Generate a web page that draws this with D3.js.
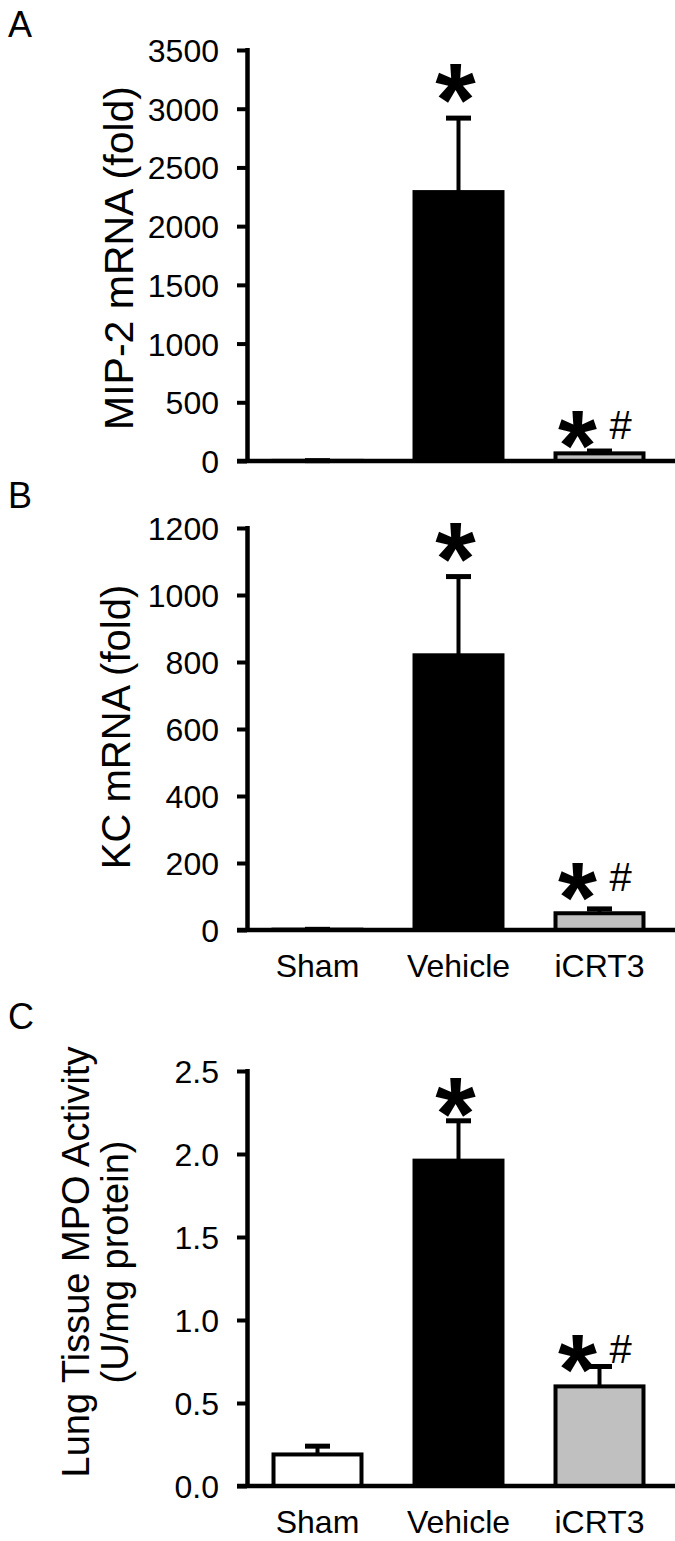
<!DOCTYPE html>
<html>
<head>
<meta charset="utf-8">
<script src="https://cdn.jsdelivr.net/npm/d3@7"></script>
<style>
  html, body { margin: 0; padding: 0; background: #ffffff; }
  svg { display: block; }
  text { font-family: "Liberation Sans", Arial, sans-serif; fill: #000; }
</style>
</head>
<body>
<svg id="chart" width="675" height="1541"></svg>
<script>
// ---------- data ----------
const categories = ["Sham", "Vehicle", "iCRT3"];
const barFills = ["#ffffff", "#000000", "#c0c0c0"];

const mip2Mean = [1, 2290, 65];
const mip2Err  = [2, 630, 20];
const mip2Ticks = [0, 500, 1000, 1500, 2000, 2500, 3000, 3500];

const kcMean = [1, 820, 50];
const kcErr  = [1, 235, 13];
const kcTicks = [0, 200, 400, 600, 800, 1000, 1200];

const mpoMean = [0.19, 1.96, 0.60];
const mpoErr  = [0.05, 0.24, 0.12];
const mpoTicks = [0, 0.5, 1.0, 1.5, 2.0, 2.5];

const marks = ["", "*", "*#"];

// ---------- layout ----------
const svg = d3.select("#chart");
const axisX = 247;
const rightX = 670;

const panels = [
  { letter: "A", letterY: 37, top: 50, bottom: 461, ticks: mip2Ticks, fmt: d3.format("d"),
    mean: mip2Mean, err: mip2Err, titles: ["MIP-2 mRNA (fold)"], titleX: [133], titleY: 258, titleSize: 41,
    showX: false, gapStar: 25, gapPair: 12 },
  { letter: "B", letterY: 508, top: 528, bottom: 930, ticks: kcTicks, fmt: d3.format("d"),
    mean: kcMean, err: kcErr, titles: ["KC mRNA (fold)"], titleX: [130], titleY: 727, titleSize: 40,
    showX: true, gapStar: 25, gapPair: 18 },
  { letter: "C", letterY: 1029, top: 1071, bottom: 1486, ticks: mpoTicks, fmt: d3.format(".1f"),
    mean: mpoMean, err: mpoErr, titles: ["Lung Tissue MPO Activity", "(U/mg protein)"], titleX: [89, 128],
    titleY: 1262, titleSize: 38, showX: true, gapStar: 14, gapPair: 3 }
];

const x = d3.scaleBand().domain(categories).range([axisX, rightX]).paddingInner(0.376).paddingOuter(0.188);

panels.forEach(p => {
  const y = d3.scaleLinear().domain([0, d3.max(p.ticks)]).range([p.bottom, p.top]);
  const g = svg.append("g");

  // panel letter
  g.append("text").attr("x", 8).attr("y", p.letterY).attr("font-size", 36).text(p.letter);

  // bars
  g.selectAll("rect.bar").data(categories).enter().append("rect")
    .attr("x", d => x(d))
    .attr("y", (d, i) => y(p.mean[i]))
    .attr("width", x.bandwidth())
    .attr("height", (d, i) => y(0) - y(p.mean[i]))
    .attr("fill", (d, i) => barFills[i])
    .attr("stroke", "#000")
    .attr("stroke-width", 4);

  // error bars (upper only) and significance marks
  categories.forEach((c, i) => {
    const cx = x(c) + x.bandwidth() / 2;
    const yt = y(p.mean[i] + p.err[i]);
    g.append("line").attr("x1", cx).attr("x2", cx).attr("y1", y(p.mean[i])).attr("y2", yt)
      .attr("stroke", "#000").attr("stroke-width", 4);
    g.append("line").attr("x1", cx - 12.5).attr("x2", cx + 12.5).attr("y1", yt).attr("y2", yt)
      .attr("stroke", "#000").attr("stroke-width", 5);

    const m = marks[i];
    if (m === "*") {
      const bottom = yt - p.gapStar;
      g.append("text").attr("x", cx - 3).attr("y", bottom + 43)
        .attr("text-anchor", "middle").attr("font-size", 104).attr("font-weight", "bold").text("*");
    } else if (m === "*#") {
      const bottom = yt - p.gapPair;
      g.append("text").attr("x", cx - 22).attr("y", bottom + 41)
        .attr("text-anchor", "middle").attr("font-size", 100).attr("font-weight", "bold").text("*");
      g.append("text").attr("x", cx + 21).attr("y", bottom)
        .attr("text-anchor", "middle").attr("font-size", 40).text("#");
    }
  });

  // y axis
  const yAxis = d3.axisLeft(y).tickValues(p.ticks).tickFormat(p.fmt).tickSize(10).tickPadding(18).tickSizeOuter(0);
  const ya = g.append("g").attr("transform", `translate(${axisX},0)`).call(yAxis);
  ya.select(".domain").attr("stroke", "#000").attr("stroke-width", 4.5)
    .attr("d", `M0.5,${p.top - 2}V${p.bottom}`);
  ya.selectAll(".tick line").attr("stroke", "#000").attr("stroke-width", 4);
  ya.selectAll(".tick text").attr("font-size", 32).attr("font-family", "Liberation Sans, Arial, sans-serif")
    .attr("dy", "0.36em");

  // x axis
  const xAxis = d3.axisBottom(x).tickSize(0).tickPadding(24).tickFormat(d => p.showX ? d : "");
  const xa = g.append("g").attr("transform", `translate(0,${p.bottom})`).call(xAxis);
  xa.select(".domain").attr("stroke", "#000").attr("stroke-width", 4.5)
    .attr("d", `M${axisX - 10},0H675`);
  xa.selectAll(".tick text").attr("font-size", 32).attr("font-family", "Liberation Sans, Arial, sans-serif");

  // y titles
  p.titles.forEach((t, k) => {
    g.append("text")
      .attr("transform", `translate(${p.titleX[k]},${p.titleY}) rotate(-90)`)
      .attr("text-anchor", "middle").attr("font-size", p.titleSize).text(t);
  });
});
</script>
</body>
</html>
